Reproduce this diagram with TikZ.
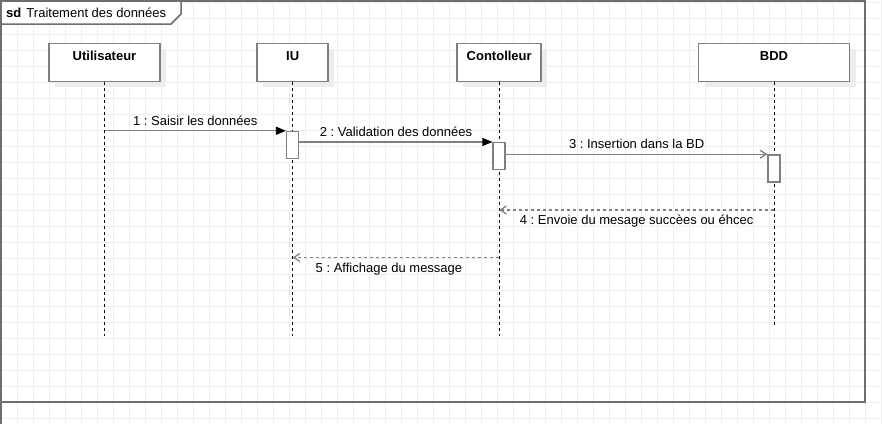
\documentclass[tikz,border=0pt]{standalone}
\usepackage{fontspec}
\setmainfont{Liberation Sans}
\frenchspacing
\usetikzlibrary{arrows.meta,positioning,shadows}
\definecolor{umlgray}{HTML}{808080}
\definecolor{framegray}{HTML}{6E6E6E}
\definecolor{gridgray}{HTML}{EDEDED}
\definecolor{shadowgray}{HTML}{EDEDED}
\tikzset{
	gridline/.style={draw=gridgray, line width=1pt},
	umlframe/.style={draw=framegray, line width=1.5pt},
	lifehead/.style={draw=umlgray, line width=1.5pt, fill=white, anchor=north,
		inner xsep=0pt, inner ysep=8pt, text height=9.5pt, text depth=12.5pt, minimum height=0pt,
		font=\fontsize{13}{15}\selectfont\bfseries,
		drop shadow={shadow xshift=6pt, shadow yshift=-6pt, fill=shadowgray, opacity=1}},
	lifeline/.style={draw=black, line width=1pt, dash pattern=on 3pt off 3pt},
	activation/.style={draw=umlgray, line width=1.5pt, fill=white, inner sep=0pt,
		minimum width=12pt, minimum height=27pt},
	msglabel/.style={font=\fontsize{13}{15}\selectfont, inner sep=0pt, anchor=base},
	syncmsg/.style={draw=umlgray, line width=1.3pt, -{Triangle[length=10pt,width=8pt,black]}},
	asyncmsg/.style={draw=umlgray, line width=1.3pt, -{Straight Barb[length=6pt,width=8pt]}},
	replymsg/.style={draw=umlgray, line width=1.3pt, dash pattern=on 3pt off 3pt, -{Straight Barb[length=6pt,width=8pt]}},
}
\begin{document}
\begin{tikzpicture}[x=1pt, y=-1pt]
	\useasboundingbox (0,0) rectangle (882,424);
	% grille
	\foreach \x in {1,17,...,881}{
		\draw[gridline] (\x,0) -- (\x,424);
	}
	\foreach \y in {2.5,18.5,...,418.5}{
		\draw[gridline] (0,\y) -- (882,\y);
	}
	
	\draw[umlframe] (1,1) rectangle (865,402);
	\draw[umlframe] (1,402) -- (1,424);
	\draw[umlframe, fill=white] (1,1) -- (181,1) -- (181,14) -- (171,24) -- (1,24) -- cycle;
	\node[msglabel, anchor=base west] (sdtab) at (6,17.4) {\textbf{sd}\hspace{1.5pt} Traitement des données};
	
	\node[lifehead, minimum width=111pt] (user) at (104.5,42.5) {Utilisateur};
	\node[lifehead, minimum width=71pt] (iu) at (292.7,42.5) {IU};
	\node[lifehead, minimum width=84pt] (ctrl) at (499.2,42.5) {Contolleur};
	\node[lifehead, minimum width=151pt] (bdd) at (774,42.5) {BDD};
	
	\foreach \n/\e in {user/336, iu/336, ctrl/336, bdd/328}{
		\draw[lifeline] (\n.south) -- (\n.south |- 0,\e);
	}
	
	\node[activation] (actIU) at (iu.south |- 0,145) {};
	\node[activation] (actCtrl) at (ctrl.south |- 0,156.2) {};
	\node[activation] (actBDD) at (bdd.south |- 0,168.5) {};
	
	\draw[syncmsg] (user.south |- actIU.north west) -- (actIU.north west)
		node[msglabel, midway, yshift=5.3pt]{1 : Saisir les données};
	\draw[syncmsg] (actIU.east |- actCtrl.north west) -- (actCtrl.north west)
		node[msglabel, midway, yshift=5.3pt]{2 : Validation des données};
	\draw[asyncmsg] (actCtrl.east |- actBDD.north west) -- (actBDD.north west)
		node[msglabel, midway, yshift=5.3pt]{3 : Insertion dans la BD};
	
	\coordinate (ret4) at (bdd.south |- 0,210);
	\coordinate (ret5) at (ctrl.south |- 0,257.5);
	\draw[replymsg] (ret4) -- (ctrl.south |- ret4)
		node[msglabel, midway, yshift=-14.7pt]{4 : Envoie du mesage succèes ou éhcec};
	\draw[replymsg] (ret5) -- (iu.south |- ret5)
		node[msglabel, midway, yshift=-14.7pt, xshift=-7pt]{5 : Affichage du message};
\end{tikzpicture}
\end{document}
